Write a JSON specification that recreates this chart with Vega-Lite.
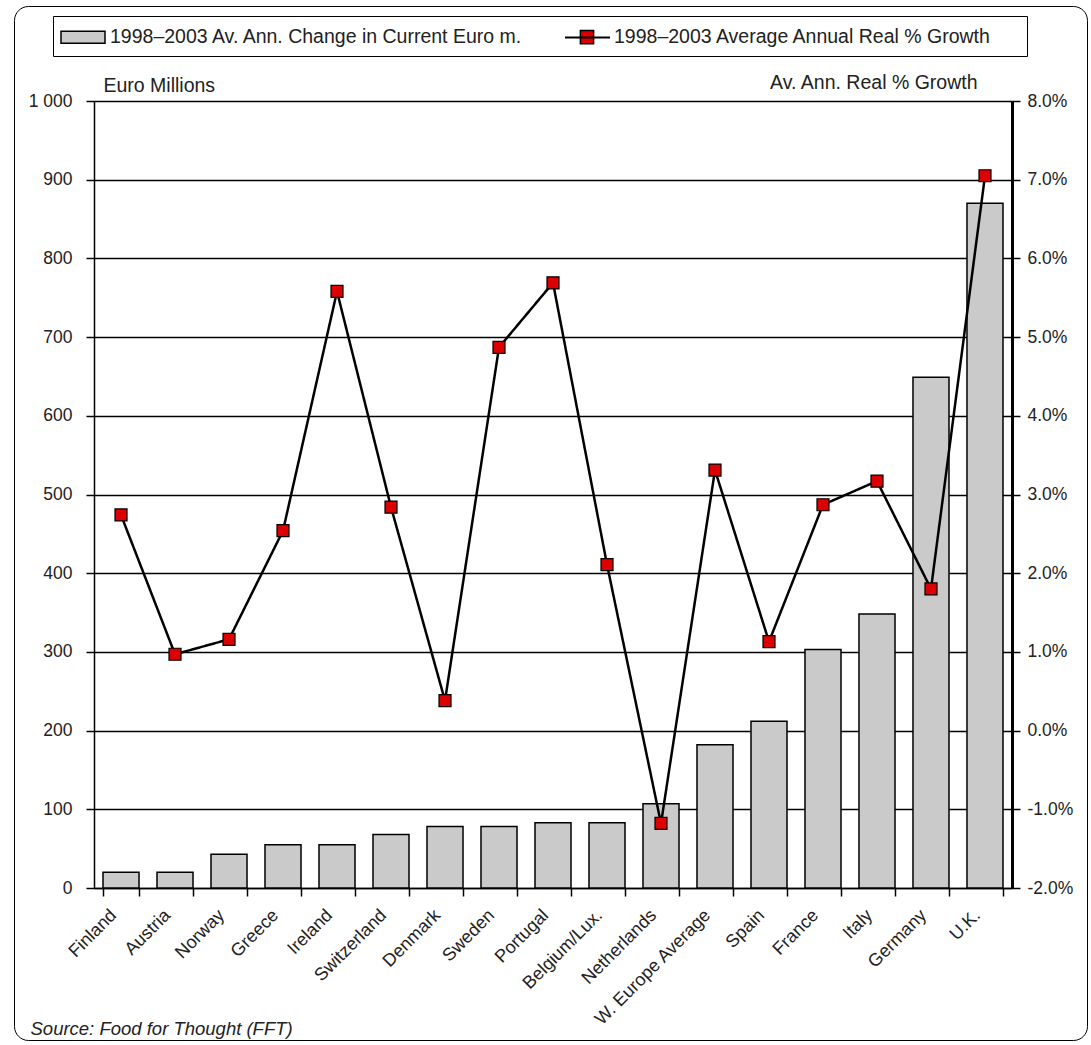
{
  "$schema": "https://vega.github.io/schema/vega-lite/v6.json",
  "width": 918,
  "height": 787,
  "autosize": {"type": "none"},
  "padding": {"left": 94, "top": 101, "right": 79, "bottom": 157},
  "background": "white",
  "config": {
    "view": {"stroke": null},
    "font": "Liberation Sans",
    "axis": {"labelFont": "Liberation Sans", "titleFont": "Liberation Sans", "labelColor": "#222", "titleColor": "#222", "titleFontWeight": "normal"}
  },
  "data": {
    "values": [
      {"country": "Finland", "change": 20, "growth": 2.74},
      {"country": "Austria", "change": 20, "growth": 0.97},
      {"country": "Norway", "change": 43, "growth": 1.16},
      {"country": "Greece", "change": 55, "growth": 2.54},
      {"country": "Ireland", "change": 55, "growth": 5.58},
      {"country": "Switzerland", "change": 68, "growth": 2.84},
      {"country": "Denmark", "change": 78, "growth": 0.38},
      {"country": "Sweden", "change": 78, "growth": 4.87},
      {"country": "Portugal", "change": 83, "growth": 5.69},
      {"country": "Belgium/Lux.", "change": 83, "growth": 2.11},
      {"country": "Netherlands", "change": 107, "growth": -1.18},
      {"country": "W. Europe Average", "change": 182, "growth": 3.31},
      {"country": "Spain", "change": 212, "growth": 1.13},
      {"country": "France", "change": 303, "growth": 2.87},
      {"country": "Italy", "change": 348, "growth": 3.17},
      {"country": "Germany", "change": 649, "growth": 1.80},
      {"country": "U.K.", "change": 870, "growth": 7.05}
    ]
  },
  "layer": [
    {
      "mark": {"type": "bar", "stroke": "black", "strokeWidth": 1.5, "opacity": 1},
      "encoding": {
        "x": {
          "field": "country", "type": "nominal", "sort": null,
          "scale": {"paddingInner": 0.333, "paddingOuter": 0.1667},
          "axis": {
            "title": "Source: Food for Thought (FFT)",
            "titleFont": "Liberation Sans", "titleFontStyle": "italic", "titleFontSize": 18.5, "titleFontWeight": "normal",
            "titleX": -64, "titleY": 146, "titleAlign": "left", "titleBaseline": "alphabetic", "titleAngle": 0,
            "labelAngle": -45, "labelFontSize": 18, "labelPadding": 10, "labelOffset": -14,
            "tickBand": "extent", "tickSize": 8, "tickColor": "black", "tickWidth": 1.5,
            "domainColor": "black", "domainWidth": 1.5, "grid": false
          }
        },
        "y": {
          "field": "change", "type": "quantitative",
          "scale": {"domain": [0, 1000], "nice": false},
          "axis": {
            "title": "Euro Millions", "titleAngle": 0, "titleX": 9, "titleY": -10, "titleAlign": "left", "titleBaseline": "alphabetic", "titleFontSize": 19.5,
            "values": [0, 100, 200, 300, 400, 500, 600, 700, 800, 900, 1000],
            "labelExpr": "replace(format(datum.value, ','), ',', ' ')",
            "labelFontSize": 17.5, "labelPadding": 14, "tickSize": 8, "tickColor": "black", "tickWidth": 1.5,
            "domainColor": "black", "domainWidth": 1.5,
            "grid": true, "gridColor": "black", "gridWidth": 1.5, "gridOpacity": 1
          }
        },
        "fill": {
          "datum": "1998–2003 Av. Ann. Change in Current Euro m.", "type": "nominal",
          "scale": {"domain": ["1998–2003 Av. Ann. Change in Current Euro m.", "1998–2003 Average Annual Real % Growth"], "range": ["#cacaca", "#dd0000"]},
          "legend": {
            "title": "\u00a0", "titleOrient": "right", "titlePadding": 26, "titleFontSize": 4,
            "orient": "none", "legendX": -41, "legendY": -85, "direction": "horizontal",
            "strokeColor": "black", "padding": 9,
            "symbolSize": 484, "symbolOffset": 9, "labelOffset": 15, "columnPadding": 42,
            "symbolStrokeColor": "black", "symbolStrokeWidth": 1.5, "symbolOpacity": 1,
            "labelFont": "Liberation Sans", "labelFontSize": 19.5, "labelColor": "#222", "labelLimit": 700
          }
        }
      }
    },
    {
      "layer": [
        {
          "mark": {"type": "line", "color": "black", "strokeWidth": 2.5},
          "encoding": {
            "x": {"field": "country", "type": "nominal", "sort": null},
            "y": {"field": "growth", "type": "quantitative"},
            "opacity": {
              "datum": " ", "type": "nominal",
              "scale": {"domain": [" "], "range": [1]},
              "legend": {
                "title": null, "orient": "none", "legendX": -80, "legendY": -95,
                "strokeColor": "black", "cornerRadius": 14, "padding": 500,
                "symbolSize": 1156, "symbolOpacity": 0, "symbolStrokeWidth": 0, "symbolType": "square",
                "labelOffset": 39, "labelFontSize": 2, "labelOpacity": 0
              }
            },
            "strokeDash": {
              "datum": "line", "type": "nominal",
              "scale": {"domain": ["line"], "range": [[1, 0]]},
              "legend": {
                "title": null, "orient": "none", "legendX": 470, "legendY": -87,
                "padding": 0, "symbolType": "stroke", "symbolSize": 2025, "symbolOffset": 0,
                "symbolStrokeColor": "black", "symbolStrokeWidth": 2, "symbolOpacity": 1,
                "labelOffset": 0, "labelFontSize": 2, "labelOpacity": 0
              }
            }
          }
        },
        {
          "mark": {"type": "point", "filled": true, "size": 400, "stroke": "black", "strokeWidth": 1.2, "opacity": 1},
          "encoding": {
            "x": {"field": "country", "type": "nominal", "sort": null},
            "y": {"field": "growth", "type": "quantitative"},
            "fill": {"datum": "1998–2003 Average Annual Real % Growth", "type": "nominal"},
            "shape": {
              "datum": "1998–2003 Average Annual Real % Growth", "type": "nominal",
              "scale": {"domain": ["1998–2003 Av. Ann. Change in Current Euro m.", "1998–2003 Average Annual Real % Growth"], "range": ["M-2,-0.55H2V0.55H-2Z", "M-0.6,-0.6H0.6V0.6H-0.6Z"]}
            }
          }
        }
      ],
      "encoding": {
        "y": {
          "field": "growth", "type": "quantitative",
          "scale": {"domain": [-2, 8], "nice": false},
          "axis": {
            "orient": "right",
            "title": "Av. Ann. Real % Growth", "titleAngle": 0, "titleX": -35, "titleY": -13, "titleAlign": "right", "titleBaseline": "alphabetic", "titleFontSize": 19.5,
            "values": [-2, -1, 0, 1, 2, 3, 4, 5, 6, 7, 8],
            "labelExpr": "replace(format(datum.value, '.1f'), '−', '-') + '%'",
            "labelFontSize": 17.5, "labelPadding": 7, "tickSize": 8, "tickColor": "black", "tickWidth": 1.5,
            "domainColor": "black", "domainWidth": 3, "grid": false
          }
        }
      }
    }
  ],
  "resolve": {"scale": {"y": "independent"}}
}
